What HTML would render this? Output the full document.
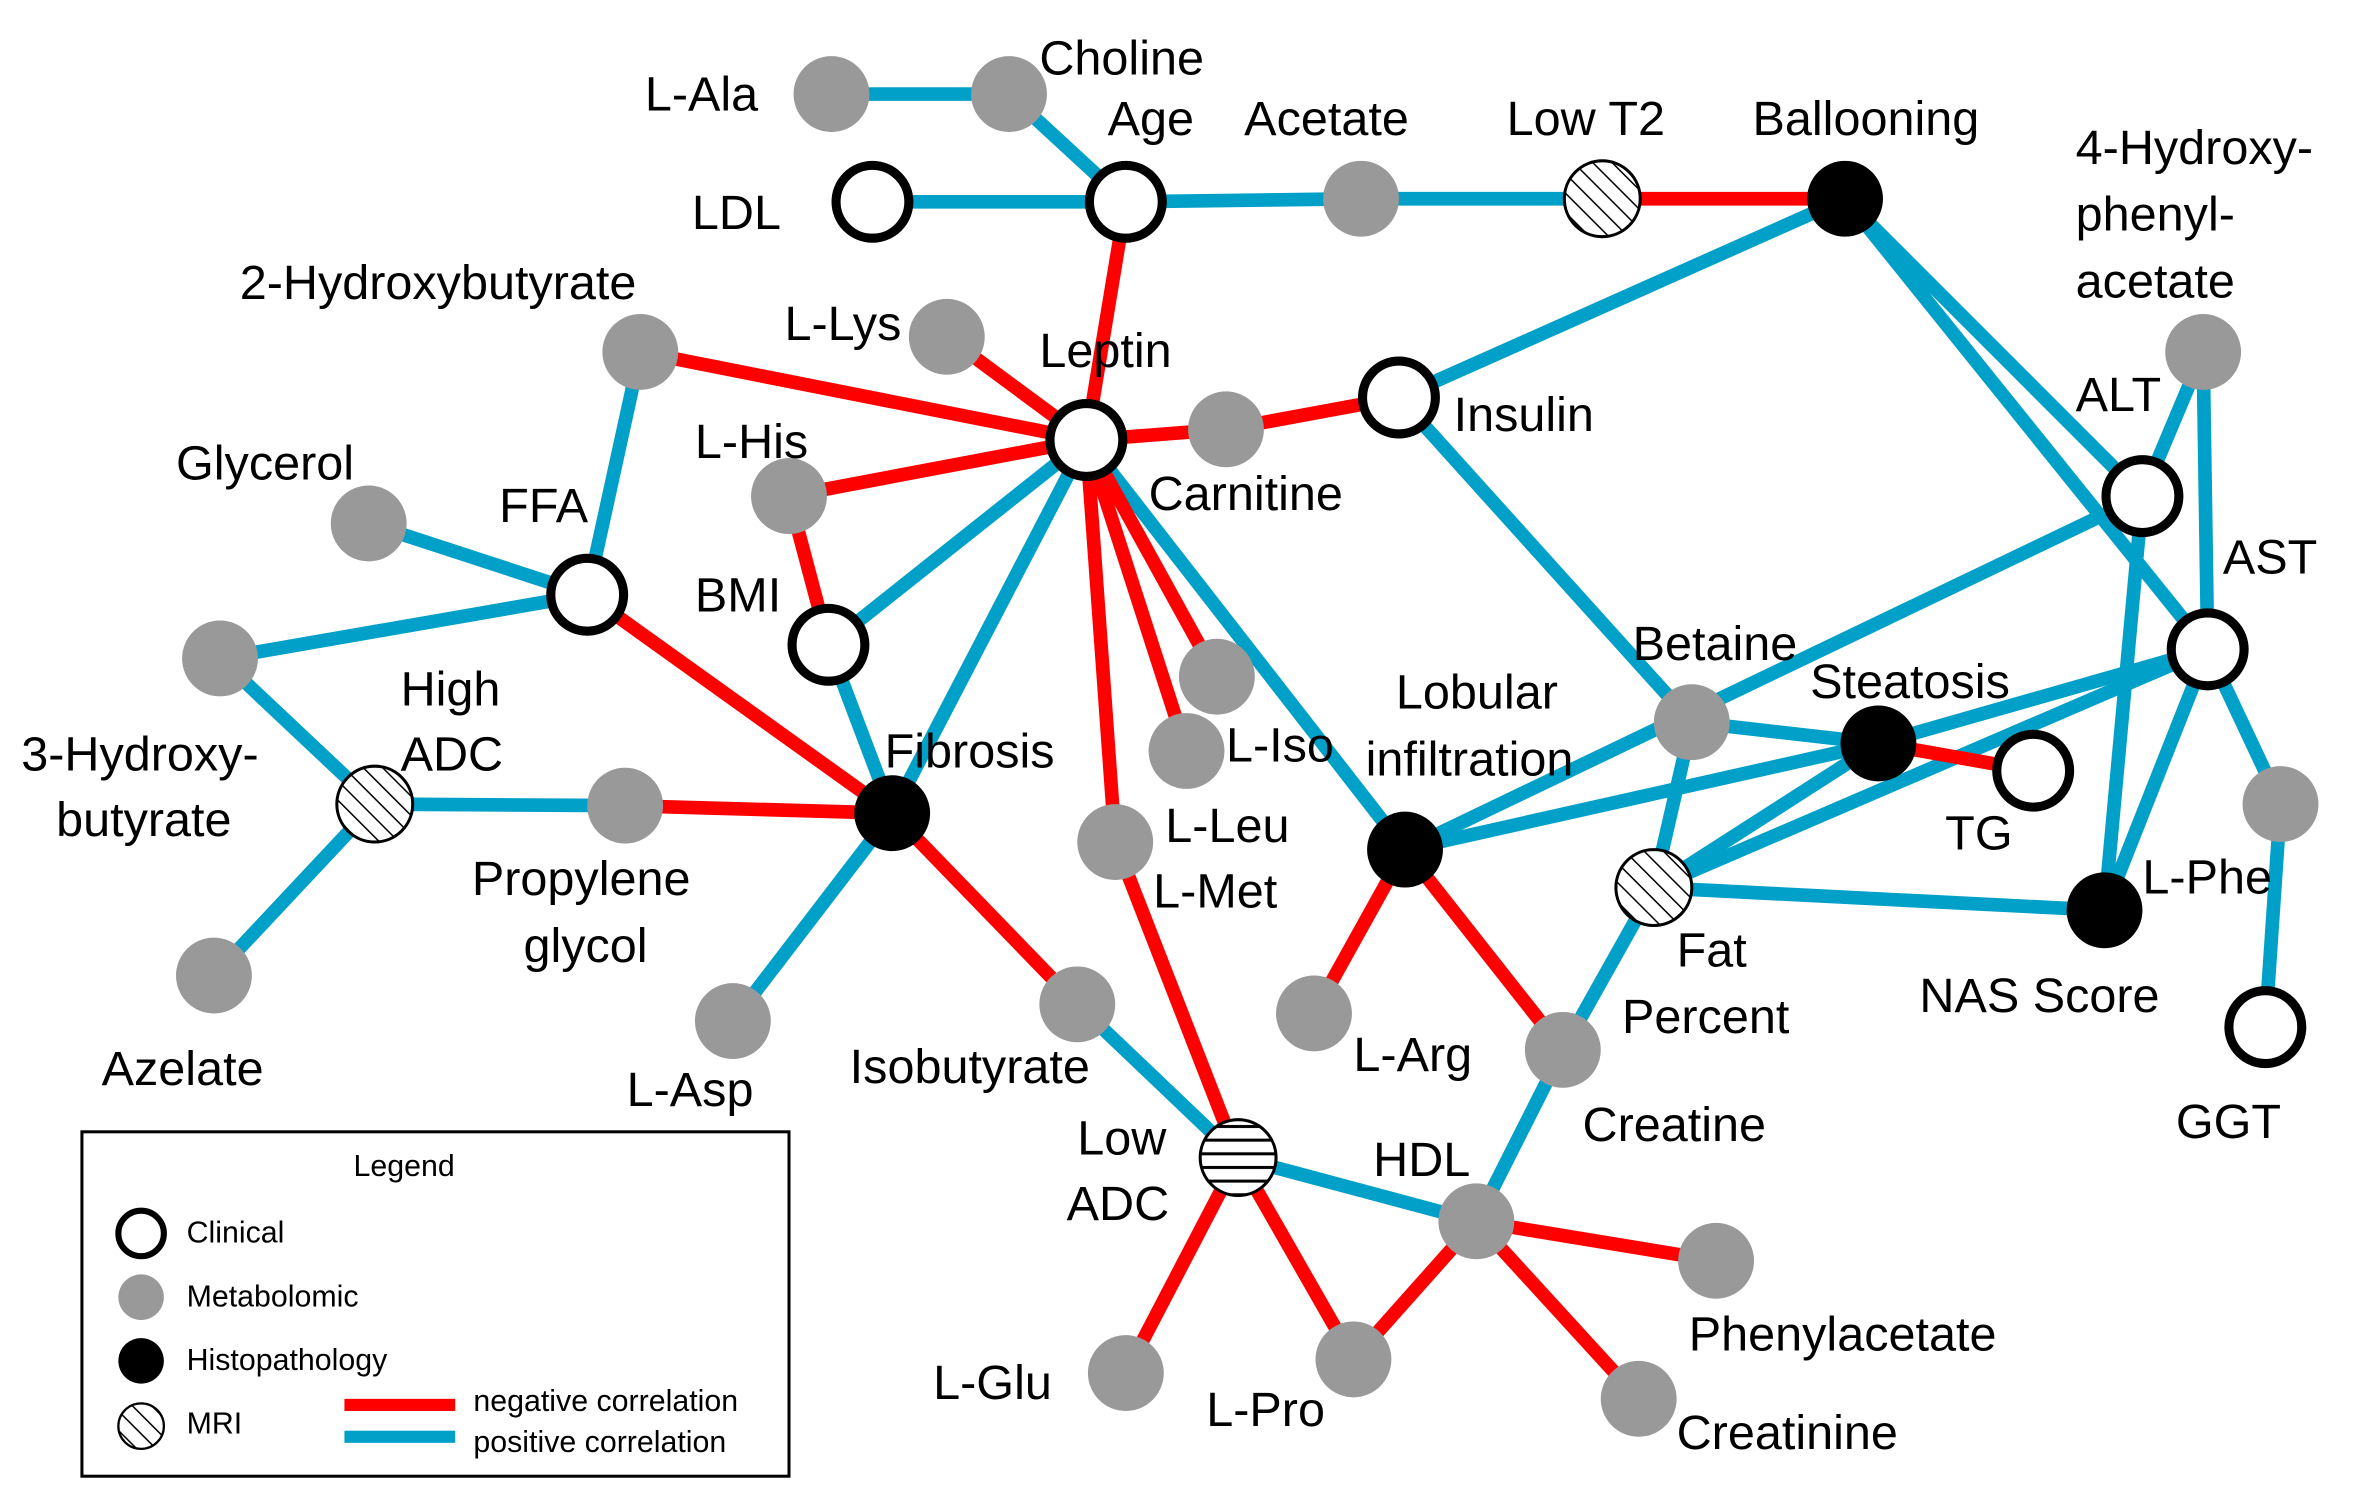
<!DOCTYPE html>
<html><head><meta charset="utf-8"><style>
html,body{margin:0;padding:0;background:#fff;}
svg{display:block;}
text{font-family:"Liberation Sans",sans-serif;fill:#000;}
</style></head><body>
<svg width="2367" height="1502" viewBox="0 0 1560 990" preserveAspectRatio="none" xmlns="http://www.w3.org/2000/svg">
<defs>
<pattern id="hatch" patternUnits="userSpaceOnUse" width="9" height="9" patternTransform="rotate(-45)">
<rect width="9" height="9" fill="#fff"/><line x1="0" y1="0" x2="0" y2="9" stroke="#000" stroke-width="2"/>
</pattern>
<pattern id="hlines" patternUnits="userSpaceOnUse" width="9" height="9">
<rect width="9" height="9" fill="#fff"/><line x1="0" y1="4.5" x2="9" y2="4.5" stroke="#000" stroke-width="2"/>
</pattern>
</defs>
<g stroke-width="9" stroke-linecap="butt" fill="none">
<!-- blue -->
<g stroke="#00a0c8">
<line x1="548" y1="62" x2="665" y2="62"/>
<line x1="665" y1="62" x2="742" y2="133"/>
<line x1="575" y1="133" x2="742" y2="133"/>
<line x1="742" y1="133" x2="897" y2="131"/>
<line x1="897" y1="131" x2="1056" y2="131"/>
<line x1="1216" y1="131" x2="922" y2="262"/>
<line x1="1216" y1="131" x2="1412" y2="327"/>
<line x1="1216" y1="131" x2="1455" y2="428"/>
<line x1="422" y1="232" x2="387" y2="392"/>
<line x1="716" y1="290" x2="546" y2="425"/>
<line x1="716" y1="290" x2="588" y2="536"/>
<line x1="546" y1="425" x2="588" y2="536"/>
<line x1="716" y1="290" x2="926" y2="560"/>
<line x1="922" y1="262" x2="1115" y2="476"/>
<line x1="243" y1="345" x2="387" y2="392"/>
<line x1="145" y1="434" x2="387" y2="392"/>
<line x1="145" y1="434" x2="247" y2="530"/>
<line x1="247" y1="530" x2="141" y2="643"/>
<line x1="247" y1="530" x2="412" y2="531"/>
<line x1="588" y1="536" x2="483" y2="673"/>
<line x1="710" y1="662" x2="816" y2="763"/>
<line x1="816" y1="763" x2="973" y2="805"/>
<line x1="973" y1="805" x2="1030" y2="692"/>
<line x1="1030" y1="692" x2="1090" y2="585"/>
<line x1="1115" y1="476" x2="1090" y2="585"/>
<line x1="1115" y1="476" x2="1238" y2="490"/>
<line x1="926" y1="560" x2="1238" y2="490"/>
<line x1="926" y1="560" x2="1412" y2="327"/>
<line x1="1090" y1="585" x2="1238" y2="490"/>
<line x1="1090" y1="585" x2="1455" y2="428"/>
<line x1="1090" y1="585" x2="1387" y2="600"/>
<line x1="1238" y1="490" x2="1455" y2="428"/>
<line x1="1452" y1="232" x2="1412" y2="327"/>
<line x1="1452" y1="232" x2="1455" y2="428"/>
<line x1="1412" y1="327" x2="1387" y2="600"/>
<line x1="1455" y1="428" x2="1387" y2="600"/>
<line x1="1455" y1="428" x2="1503" y2="530"/>
<line x1="1503" y1="530" x2="1493" y2="677"/>
</g>
<!-- red -->
<g stroke="#ff0000">
<line x1="1056" y1="131" x2="1216" y2="131"/>
<line x1="742" y1="133" x2="716" y2="290"/>
<line x1="422" y1="232" x2="716" y2="290"/>
<line x1="624" y1="222" x2="716" y2="290"/>
<line x1="716" y1="290" x2="808" y2="283"/>
<line x1="808" y1="283" x2="922" y2="262"/>
<line x1="520" y1="327" x2="716" y2="290"/>
<line x1="520" y1="327" x2="546" y2="425"/>
<line x1="716" y1="290" x2="802" y2="446"/>
<line x1="716" y1="290" x2="782" y2="495"/>
<line x1="716" y1="290" x2="735" y2="555"/>
<line x1="412" y1="531" x2="588" y2="536"/>
<line x1="387" y1="392" x2="588" y2="536"/>
<line x1="588" y1="536" x2="710" y2="662"/>
<line x1="735" y1="555" x2="816" y2="763"/>
<line x1="816" y1="763" x2="742" y2="905"/>
<line x1="816" y1="763" x2="892" y2="896"/>
<line x1="892" y1="896" x2="973" y2="805"/>
<line x1="973" y1="805" x2="1131" y2="831"/>
<line x1="973" y1="805" x2="1080" y2="922"/>
<line x1="926" y1="560" x2="866" y2="668"/>
<line x1="926" y1="560" x2="1030" y2="692"/>
<line x1="1238" y1="490" x2="1340" y2="508"/>
</g>
</g>
<!-- gray nodes -->
<g fill="#999">
<circle cx="548" cy="62" r="25"/><circle cx="665" cy="62" r="25"/><circle cx="897" cy="131" r="25"/>
<circle cx="422" cy="232" r="25"/><circle cx="624" cy="222" r="25"/><circle cx="808" cy="283" r="25"/>
<circle cx="520" cy="327" r="25"/><circle cx="243" cy="345" r="25"/><circle cx="802" cy="446" r="25"/>
<circle cx="782" cy="495" r="25"/><circle cx="1452" cy="232" r="25"/><circle cx="145" cy="434" r="25"/>
<circle cx="412" cy="531" r="25"/><circle cx="735" cy="555" r="25"/><circle cx="1115" cy="476" r="25"/>
<circle cx="1503" cy="530" r="25"/><circle cx="141" cy="643" r="25"/><circle cx="483" cy="673" r="25"/>
<circle cx="710" cy="662" r="25"/><circle cx="866" cy="668" r="25"/><circle cx="1030" cy="692" r="25"/>
<circle cx="973" cy="805" r="25"/><circle cx="1131" cy="831" r="25"/><circle cx="742" cy="905" r="25"/>
<circle cx="892" cy="896" r="25"/><circle cx="1080" cy="922" r="25"/>
</g>
<!-- clinical -->
<g fill="#fff" stroke="#000" stroke-width="6">
<circle cx="575" cy="133" r="24"/><circle cx="742" cy="133" r="24"/><circle cx="716" cy="290" r="24"/>
<circle cx="922" cy="262" r="24"/><circle cx="387" cy="392" r="24"/><circle cx="546" cy="425" r="24"/>
<circle cx="1412" cy="327" r="24"/><circle cx="1455" cy="428" r="24"/><circle cx="1340" cy="508" r="24"/>
<circle cx="1493" cy="677" r="24"/>
</g>
<!-- histopathology -->
<g fill="#000">
<circle cx="1216" cy="131" r="25"/><circle cx="588" cy="536" r="25"/><circle cx="926" cy="560" r="25"/>
<circle cx="1238" cy="490" r="25"/><circle cx="1387" cy="600" r="25"/>
</g>
<!-- MRI -->
<g stroke="#000" stroke-width="2">
<circle cx="1056" cy="131" r="25" fill="url(#hatch)"/>
<circle cx="247" cy="530" r="25" fill="url(#hatch)"/>
<circle cx="1090" cy="585" r="25" fill="url(#hatch)"/>
<circle cx="816" cy="763" r="25" fill="url(#hlines)"/>
</g>
<!-- labels -->
<g font-size="32">
<text x="425" y="73">L-Ala</text>
<text x="685" y="49">Choline</text>
<text x="456" y="151">LDL</text>
<text x="730" y="89">Age</text>
<text x="820" y="89">Acetate</text>
<text x="993" y="89">Low T2</text>
<text x="1155" y="89">Ballooning</text>
<text x="1368" y="108">4-Hydroxy-</text>
<text x="1368" y="152">phenyl-</text>
<text x="1368" y="196">acetate</text>
<text x="158" y="197">2-Hydroxybutyrate</text>
<text x="517" y="224">L-Lys</text>
<text x="685" y="242">Leptin</text>
<text x="958" y="284">Insulin</text>
<text x="458" y="302">L-His</text>
<text x="757" y="336">Carnitine</text>
<text x="116" y="316">Glycerol</text>
<text x="329" y="344">FFA</text>
<text x="458" y="403">BMI</text>
<text x="1368" y="271">ALT</text>
<text x="1465" y="378">AST</text>
<text x="1076" y="435">Betaine</text>
<text x="1193" y="460">Steatosis</text>
<text x="920" y="467">Lobular</text>
<text x="900" y="511">infiltration</text>
<text x="264" y="465">High</text>
<text x="264" y="508">ADC</text>
<text x="14" y="508">3-Hydroxy-</text>
<text x="37" y="551">butyrate</text>
<text x="583" y="506">Fibrosis</text>
<text x="808" y="502">L-Iso</text>
<text x="768" y="555">L-Leu</text>
<text x="760" y="598">L-Met</text>
<text x="1282" y="560">TG</text>
<text x="1412" y="589">L-Phe</text>
<text x="311" y="590">Propylene</text>
<text x="345" y="634">glycol</text>
<text x="1105" y="637">Fat</text>
<text x="1069" y="681">Percent</text>
<text x="1265" y="667">NAS Score</text>
<text x="1434" y="750">GGT</text>
<text x="67" y="715">Azelate</text>
<text x="413" y="729">L-Asp</text>
<text x="560" y="714">Isobutyrate</text>
<text x="892" y="706">L-Arg</text>
<text x="1043" y="752">Creatine</text>
<text x="710" y="761">Low</text>
<text x="703" y="804">ADC</text>
<text x="905" y="775">HDL</text>
<text x="1113" y="890">Phenylacetate</text>
<text x="615" y="922">L-Glu</text>
<text x="795" y="940">L-Pro</text>
<text x="1105" y="955">Creatinine</text>
</g>
<!-- legend -->
<rect x="54" y="746" width="466" height="227" fill="none" stroke="#000" stroke-width="2"/>
<g font-size="20">
<text x="233" y="775">Legend</text>
<text x="123" y="819">Clinical</text>
<text x="123" y="861">Metabolomic</text>
<text x="123" y="903">Histopathology</text>
<text x="123" y="945">MRI</text>
<text x="312" y="930">negative correlation</text>
<text x="312" y="957">positive correlation</text>
</g>
<circle cx="93" cy="813" r="15" fill="#fff" stroke="#000" stroke-width="4"/>
<circle cx="93" cy="855" r="15" fill="#999"/>
<circle cx="93" cy="897" r="15" fill="#000"/>
<circle cx="93" cy="940" r="15" fill="url(#hatch)" stroke="#000" stroke-width="1.5"/>
<rect x="227" y="922" width="73" height="8" fill="#ff0000"/>
<rect x="227" y="943" width="73" height="8" fill="#00a0c8"/>
</svg>
</body></html>
